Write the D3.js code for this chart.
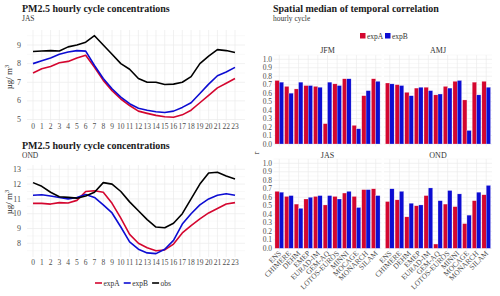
<!DOCTYPE html>
<html>
<head>
<meta charset="utf-8">
<script src="https://cdn.jsdelivr.net/npm/d3@7"></script>
<style>
  body { margin: 0; background: #fff; }
  svg { display: block; }
</style>
</head>
<body>
<svg id="chart" width="500" height="296" font-family="'Liberation Serif', 'DejaVu Serif', serif"></svg>
<script>
// ---- data ----
const hours = [0, 1, 2, 3, 4, 5, 6, 7, 8, 9, 10, 11, 12, 13, 14, 15, 16, 17, 18, 19, 20, 21, 22, 23]

const jasExpA = [7.5, 7.72, 7.85, 8.05, 8.12, 8.3, 8.45, 7.8, 7.1, 6.55, 6.1, 5.75, 5.45, 5.33, 5.22, 5.15, 5.12, 5.25, 5.5, 5.9, 6.3, 6.7, 6.95, 7.2]
const jasExpB = [8.0, 8.15, 8.3, 8.5, 8.62, 8.7, 8.67, 7.9, 7.2, 6.65, 6.2, 5.85, 5.6, 5.5, 5.42, 5.38, 5.45, 5.65, 5.9, 6.4, 6.9, 7.35, 7.55, 7.8]
const jasObs = [8.65, 8.68, 8.7, 8.68, 8.9, 9.0, 9.15, 9.5, 9.0, 8.5, 8.0, 7.7, 7.2, 7.0, 7.0, 6.88, 6.9, 7.0, 7.3, 8.0, 8.4, 8.75, 8.7, 8.6]

const ondExpA = [10.7, 10.7, 10.65, 10.75, 10.72, 10.9, 11.5, 11.55, 11.45, 10.7, 9.7, 8.6, 8.0, 7.7, 7.5, 7.55, 7.95, 8.7, 9.2, 9.65, 10.05, 10.35, 10.65, 10.75]
const ondExpB = [11.25, 11.28, 11.2, 11.1, 11.0, 11.1, 11.3, 11.1, 10.6, 10.05, 9.1, 8.1, 7.6, 7.35, 7.3, 7.6, 8.2, 9.3, 10.0, 10.6, 11.0, 11.25, 11.35, 11.25]
const ondObs = [12.1, 11.85, 11.45, 11.15, 11.1, 11.05, 11.2, 11.45, 12.1, 12.0, 11.5, 10.8, 10.2, 9.6, 9.1, 9.05, 9.35, 10.0, 11.0, 12.0, 12.75, 12.8, 12.55, 12.35]

const models = ["ENS", "CHIMERE", "DEHM", "EMEP", "EURAD-IM", "GEM-AQ", "LOTOS-EUROS", "MINNI", "MOCAGE", "MONARCH", "SILAM"]

const jfmA = [0.75, 0.68, 0.65, 0.69, 0.68, 0.24, 0.71, 0.77, 0.22, 0.57, 0.77]
const jfmB = [0.73, 0.60, 0.73, 0.69, 0.67, 0.73, 0.69, 0.77, 0.18, 0.63, 0.74]
const amjA = [0.72, 0.70, 0.61, 0.66, 0.67, 0.58, 0.68, 0.74, 0.52, 0.73, 0.74]
const amjB = [0.71, 0.69, 0.57, 0.67, 0.63, 0.59, 0.66, 0.75, 0.16, 0.58, 0.67]
const jasA = [0.67, 0.61, 0.52, 0.58, 0.61, 0.51, 0.61, 0.65, 0.61, 0.69, 0.70]
const jasB = [0.66, 0.62, 0.47, 0.60, 0.62, 0.62, 0.58, 0.67, 0.48, 0.69, 0.62]
const ondA = [0.55, 0.57, 0.37, 0.50, 0.62, 0.05, 0.52, 0.49, 0.29, 0.56, 0.63]
const ondB = [0.70, 0.67, 0.53, 0.51, 0.71, 0.56, 0.68, 0.64, 0.39, 0.66, 0.74]

const yTicksJAS = [5, 6, 7, 8, 9]
const yTicksOND = [8, 9, 10, 11, 12, 13]
const corrTicks = [0, 0.1, 0.2, 0.3, 0.4, 0.5, 0.6, 0.7, 0.8, 0.9, 1.0]
const seriesNames = ["expA", "expB", "obs"]

const colA = "#d4062f"
const colB = "#0c0cd2"
const colObs = "#000000"
const gridCol = "#ebebeb"
const tickCol = "#4d4d4d"

const svg = d3.select("#chart")

//------------------- titres -------------------
function titre(x, y, txt, sous) {
    svg.append("text").attr("x", x).attr("y", y).attr("font-size", 10).attr("font-weight", "bold")
        .attr("fill", "#1a1a1a").text(txt)
    svg.append("text").attr("x", x).attr("y", y + 9).attr("font-size", 7.5).attr("fill", "#333").text(sous)
}

titre(22, 12, "PM2.5 hourly cycle concentrations", "JAS")
titre(22, 148.5, "PM2.5 hourly cycle concentrations", "OND")
titre(273, 12, "Spatial median of temporal correlation", "hourly cycle")

//------------------- panneau lignes -------------------
function panneauLignes(cfg) {
    const x = d3.scaleLinear().domain([0, 23]).range([33, 235])
    const y = d3.scaleLinear().domain(cfg.domain).range(cfg.range)
    const g = svg.append("g")

    // grille mineure
    for (let v = cfg.domain[0] - 0.5; v <= cfg.domain[1] + 0.5; v += 1) {
        const py = y(v)
        if (py < cfg.top || py > cfg.bottom) continue
        g.append("line").attr("x1", 27).attr("x2", 245).attr("y1", py).attr("y2", py)
            .attr("stroke", "#f3f3f3").attr("stroke-width", 0.5)
    }
    cfg.ticks.forEach(function (t) {
        g.append("line").attr("x1", 27).attr("x2", 245).attr("y1", y(t)).attr("y2", y(t))
            .attr("stroke", gridCol).attr("stroke-width", 0.7)
        g.append("text").attr("x", 21).attr("y", y(t) + 2.6).attr("text-anchor", "end")
            .attr("font-size", 8).attr("fill", tickCol).text(t)
    })
    hours.forEach(function (h) {
        g.append("line").attr("x1", x(h)).attr("x2", x(h)).attr("y1", cfg.top).attr("y2", cfg.bottom)
            .attr("stroke", gridCol).attr("stroke-width", 0.7)
        g.append("text").attr("x", x(h)).attr("y", cfg.labelY).attr("text-anchor", "middle")
            .attr("font-size", 7.5).attr("fill", tickCol).text(h)
    })

    const ligne = d3.line().x((d, i) => x(hours[i])).y(d => y(d))
    ;[[cfg.a, colA], [cfg.b, colB], [cfg.obs, colObs]].forEach(function (s) {
        g.append("path").attr("d", ligne(s[0])).attr("fill", "none")
            .attr("stroke", s[1]).attr("stroke-width", 1.6).attr("stroke-linejoin", "round")
    })

    // label axe y
    const lab = g.append("text").attr("transform", "translate(12," + cfg.labY + ") rotate(-90)")
        .attr("text-anchor", "middle").attr("font-size", 9).attr("fill", "#222")
    lab.append("tspan").text("µg/ m")
    lab.append("tspan").attr("dy", -3.5).attr("font-size", 6.5).text("3")
}

panneauLignes({ domain: [5, 9], range: [119.5, 45], ticks: yTicksJAS, top: 30, bottom: 122, labelY: 129,
    labY: 77, a: jasExpA, b: jasExpB, obs: jasObs })
panneauLignes({ domain: [8, 13], range: [243.3, 169.3], ticks: yTicksOND, top: 165, bottom: 257, labelY: 265,
    labY: 202, a: ondExpA, b: ondExpB, obs: ondObs })

// légende gauche (placée en fonction de la largeur du texte, centrée)
const legGauche = svg.append("g")
let cx = 0
;[colA, colB, colObs].forEach(function (c, i) {
    legGauche.append("line").attr("x1", cx).attr("x2", cx + 7).attr("y1", 283).attr("y2", 283)
        .attr("stroke", c).attr("stroke-width", 1.6)
    const t = legGauche.append("text").attr("x", cx + 8.5).attr("y", 285.8).attr("font-size", 7.5)
        .attr("fill", "#333").text(seriesNames[i])
    cx += 8.5 + t.node().getComputedTextLength() + 4
})
legGauche.attr("transform", "translate(" + (133 - (cx - 4) / 2) + ",0)")

//------------------- panneau barres -------------------
function facette(cfg) {
    const x = d3.scalePoint().domain(models).range([cfg.x0, cfg.x1]).padding(0.6)
    const step = x.step()
    const y = d3.scaleLinear().domain([0, 1]).range(cfg.range)
    const g = svg.append("g")
    const top = y(1.05), bottom = y(-0.03)

    for (let v = 0.05; v < 1.05; v += 0.1) {
        g.append("line").attr("x1", cfg.x0).attr("x2", cfg.x1).attr("y1", y(v)).attr("y2", y(v))
            .attr("stroke", "#f3f3f3").attr("stroke-width", 0.5)
    }
    corrTicks.forEach(function (t) {
        g.append("line").attr("x1", cfg.x0).attr("x2", cfg.x1).attr("y1", y(t)).attr("y2", y(t))
            .attr("stroke", gridCol).attr("stroke-width", 0.7)
        if (cfg.yLabels) {
            g.append("text").attr("x", 272).attr("y", y(t) + 2.5).attr("text-anchor", "end")
                .attr("font-size", 7.5).attr("fill", tickCol).text(t.toFixed(1))
        }
    })
    models.forEach(function (m) {
        g.append("line").attr("x1", x(m)).attr("x2", x(m)).attr("y1", top).attr("y2", bottom)
            .attr("stroke", gridCol).attr("stroke-width", 0.7)
    })

    const w = step * 0.45
    models.forEach(function (m, i) {
        g.append("rect").attr("x", x(m) - w).attr("y", y(cfg.a[i])).attr("width", w)
            .attr("height", y(0) - y(cfg.a[i])).attr("fill", colA)
            .attr("stroke", "#ffffff").attr("stroke-opacity", 0.6).attr("stroke-width", 0.4)
        g.append("rect").attr("x", x(m)).attr("y", y(cfg.b[i])).attr("width", w)
            .attr("height", y(0) - y(cfg.b[i])).attr("fill", colB)
            .attr("stroke", "#ffffff").attr("stroke-opacity", 0.6).attr("stroke-width", 0.4)
    })

    g.append("text").attr("x", (cfg.x0 + cfg.x1) / 2).attr("y", cfg.stripY).attr("text-anchor", "middle")
        .attr("font-size", 8).attr("fill", "#333").text(cfg.nom)

    if (cfg.xLabels) {
        models.forEach(function (m) {
            g.append("text").attr("transform", "translate(" + (x(m) + 2.5) + "," + (y(0) + 5.5) + ") rotate(-45)")
                .attr("text-anchor", "end").attr("font-size", 7.5).attr("fill", tickCol).text(m)
        })
    }
}

facette({ nom: "JFM", x0: 273.5, x1: 381.5, range: [144, 59.3], a: jfmA, b: jfmB, stripY: 52.5, yLabels: true })
facette({ nom: "AMJ", x0: 384, x1: 492, range: [144, 59.3], a: amjA, b: amjB, stripY: 52.5 })
facette({ nom: "JAS", x0: 273.5, x1: 381.5, range: [248.3, 163.3], a: jasA, b: jasB, stripY: 157.5, yLabels: true, xLabels: true })
facette({ nom: "OND", x0: 384, x1: 492, range: [248.3, 163.3], a: ondA, b: ondB, stripY: 157.5, xLabels: true })

// label r
svg.append("text").attr("transform", "translate(259,153) rotate(-90)").attr("text-anchor", "middle")
    .attr("font-size", 8.5).attr("fill", "#222").text("r")

// légende droite
const legD = [[seriesNames[0], colA, 360], [seriesNames[1], colB, 385]]
legD.forEach(function (l) {
    svg.append("rect").attr("x", l[2]).attr("y", 33).attr("width", 5.5).attr("height", 5.5).attr("fill", l[1])
    svg.append("text").attr("x", l[2] + 7).attr("y", 38.5).attr("font-size", 7.5).attr("fill", "#333").text(l[0])
})
</script>
</body>
</html>
